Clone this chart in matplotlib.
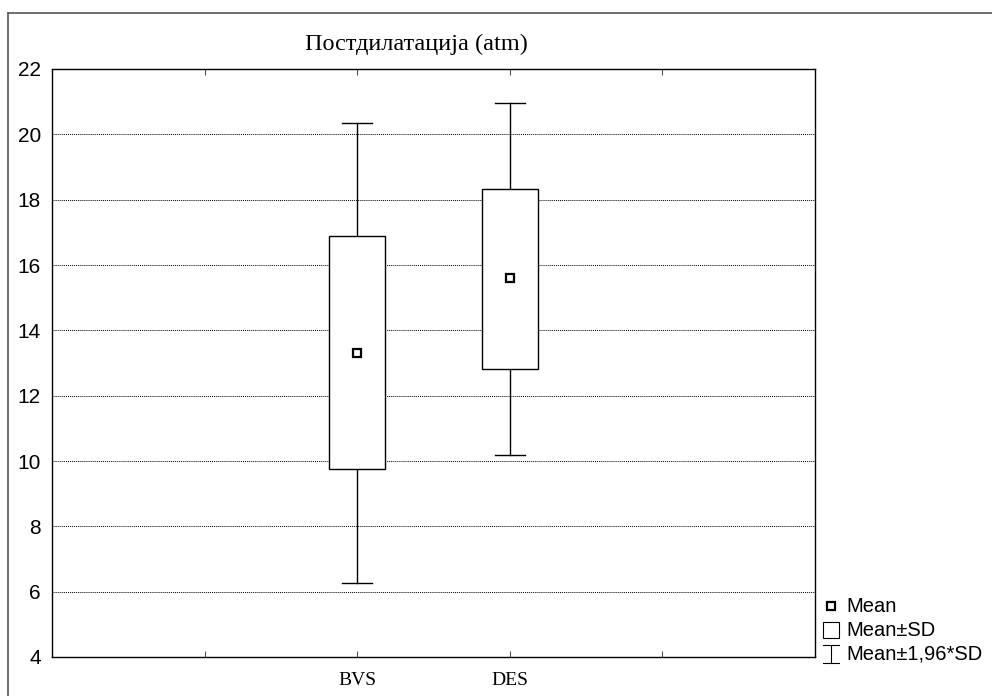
import matplotlib

matplotlib.use("Agg")
import matplotlib.pyplot as plt
from matplotlib.lines import Line2D
from matplotlib.patches import Rectangle

# Values
groups = ["BVS", "DES"]
means = [13.31, 15.60]
sd_low = [9.76, 12.82]
sd_high = [16.89, 18.33]
ci_low = [6.27, 10.19]
ci_high = [20.35, 20.96]

title = "Постдилатација (atm)"
legend_labels = ["Mean", "Mean±SD", "Mean±1,96*SD"]

W, H = 992, 696
fig = plt.figure(figsize=(W / 100, H / 100), dpi=100)
ax = fig.add_axes([52 / W, 1 - 657 / H, (815 - 52) / W, (657 - 69) / H])

positions = [2, 3]
box_w = 0.37
cap_w = 0.2

for x, m, lo, hi, clo, chi in zip(positions, means, sd_low, sd_high, ci_low, ci_high):
    # whiskers
    ax.plot([x, x], [hi, chi], color="black", lw=1, zorder=2)
    ax.plot([x, x], [clo, lo], color="black", lw=1, zorder=2)
    ax.plot([x - cap_w / 2, x + cap_w / 2], [chi, chi], color="black", lw=1, zorder=2)
    ax.plot([x - cap_w / 2, x + cap_w / 2], [clo, clo], color="black", lw=1, zorder=2)
    # box
    ax.add_patch(Rectangle((x - box_w / 2, lo), box_w, hi - lo,
                           facecolor="white", edgecolor="black", lw=1, zorder=3))
    # mean
    ax.plot([x], [m], marker="s", markersize=6, markerfacecolor="white",
            markeredgecolor="black", markeredgewidth=1.6, zorder=4)

ax.set_xlim(0, 5)
ax.set_ylim(4, 22)
ax.set_yticks(range(4, 23, 2))
ax.set_yticklabels([str(v) for v in range(4, 23, 2)], family="Liberation Sans", fontsize=15)
ax.tick_params(axis="y", length=0, pad=8)
ax.set_xticks([1, 2, 3, 4])
ax.set_xticklabels(["", groups[0], groups[1], ""], family="Liberation Serif", fontsize=14)
ax.tick_params(axis="x", direction="in", length=4, color="#555555", pad=11,
               top=True, bottom=True)
for v in range(6, 22, 2):
    ax.axhline(v, color="black", lw=0.7, ls=(0, (1, 1)), zorder=1)
for s in ax.spines.values():
    s.set_linewidth(1)

fig.text(416 / W, 1 - 44 / H, title, family="Liberation Serif", fontsize=17.5,
         ha="center", va="center")

# outer frame (top and left edges visible)
fig.add_artist(Line2D([8 / W, 1], [1 - 13 / H, 1 - 13 / H], color="#555555", lw=1.2))
fig.add_artist(Line2D([8 / W, 8 / W], [0, 1 - 13 / H], color="#555555", lw=1.2))

# legend drawn by hand
lx = 831
ly = [606, 630, 654]
fig.add_artist(Line2D([lx / W], [1 - ly[0] / H], marker="s", markersize=6,
                      markerfacecolor="white", markeredgecolor="black",
                      markeredgewidth=1.6))
fig.add_artist(Rectangle(((lx - 8) / W, 1 - (ly[1] + 8) / H), 16 / W, 16 / H,
                         facecolor="white", edgecolor="black", lw=0.8,
                         transform=fig.transFigure))
fig.add_artist(Line2D([lx / W, lx / W], [1 - (ly[2] - 9) / H, 1 - (ly[2] + 9) / H],
                      color="black", lw=0.8))
for yy in (ly[2] - 9, ly[2] + 9):
    fig.add_artist(Line2D([(lx - 8) / W, (lx + 8) / W], [1 - yy / H, 1 - yy / H],
                          color="black", lw=0.8))
for yy, lab in zip(ly, legend_labels):
    fig.text(846 / W, 1 - yy / H, lab, family="Liberation Sans", fontsize=14.5,
             ha="left", va="center")

fig.savefig("out.png", dpi=100)
